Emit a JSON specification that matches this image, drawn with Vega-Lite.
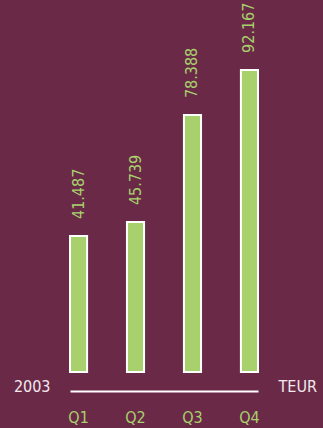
{
  "$schema": "https://vega.github.io/schema/vega-lite/v6.json",
  "autosize": "none",
  "width": 188,
  "height": 372,
  "padding": {"left": 70, "top": 0, "right": 65, "bottom": 56},
  "background": "#6a2a47",
  "config": {
    "view": {"stroke": null},
    "font": "'DejaVu Sans Condensed', Roboto, sans-serif"
  },
  "data": {
    "values": [
      {"quarter": "Q1", "value": 41.487, "label": "41.487"},
      {"quarter": "Q2", "value": 45.739, "label": "45.739"},
      {"quarter": "Q3", "value": 78.388, "label": "78.388"},
      {"quarter": "Q4", "value": 92.167, "label": "92.167"}
    ]
  },
  "encoding": {
    "x": {
      "field": "quarter",
      "type": "nominal",
      "sort": null,
      "scale": {"paddingInner": 0.7, "paddingOuter": 0},
      "axis": {
        "title": "TEUR",
        "titleColor": "#f2e9ee",
        "titleFont": "'DejaVu Sans Condensed', Roboto, sans-serif",
        "titleFontSize": 16,
        "titleFontWeight": "normal",
        "titleAlign": "left",
        "titleBaseline": "middle",
        "titleAnchor": "start",
        "titleX": 208,
        "titleY": -5,
        "offset": 19,
        "domainColor": "#ffffff",
        "domainWidth": 2,
        "ticks": false,
        "labelAngle": 0,
        "labelColor": "#a8d06c",
        "labelFont": "'DejaVu Sans Condensed', Roboto, sans-serif",
        "labelFontSize": 16,
        "labelPadding": 18
      }
    },
    "y": {
      "field": "value",
      "type": "quantitative",
      "scale": {"domain": [0, 113.5], "nice": false},
      "axis": {
        "title": "2003",
        "titleAngle": 0,
        "titleColor": "#f2e9ee",
        "titleFont": "'DejaVu Sans Condensed', Roboto, sans-serif",
        "titleFontSize": 16,
        "titleFontWeight": "normal",
        "titleAlign": "right",
        "titleBaseline": "middle",
        "titleX": -20,
        "titleY": 386,
        "labels": false,
        "ticks": false,
        "domain": false,
        "grid": false
      }
    }
  },
  "layer": [
    {
      "mark": {"type": "bar", "fill": "#a8d06c", "stroke": "#ffffff", "strokeWidth": 2}
    },
    {
      "mark": {
        "type": "text",
        "angle": -90,
        "align": "left",
        "baseline": "middle",
        "dx": 17,
        "color": "#a8d06c",
        "fontSize": 16,
        "font": "'DejaVu Sans Condensed', Roboto, sans-serif"
      },
      "encoding": {"text": {"field": "label"}}
    }
  ]
}
